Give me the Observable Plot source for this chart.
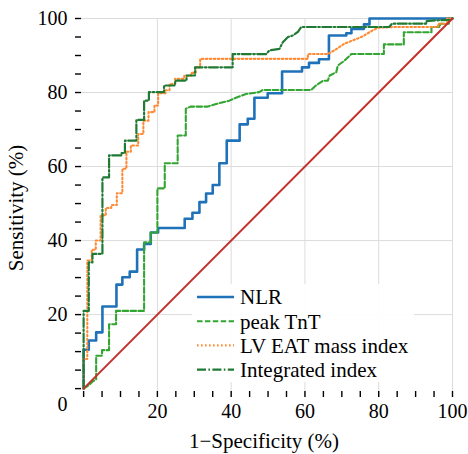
<!DOCTYPE html>
<html><head><meta charset="utf-8">
<script src="https://cdn.jsdelivr.net/npm/d3@7"></script>
<script src="https://cdn.jsdelivr.net/npm/@observablehq/plot@0.6"></script>
<style>
body{margin:0;background:#fff;font-family:"Liberation Serif";}
#wrap{position:relative;width:468px;height:454px;}
#legend{position:absolute;left:192px;top:284px;width:222px;height:98px;background:rgba(255,255,255,0.92);}
</style>
</head><body><div id="wrap"></div>
<script>
// ---- data (1-specificity %, sensitivity %) ----
const seriesNames = ["NLR", "peak TnT", "LV EAT mass index", "Integrated index"];
const nlr = [[0,0],[0,10.5],[1.4,10.5],[1.4,13],[3.4,13],[3.4,15.2],[5.1,15.2],[5.1,22.2],[8.9,22.2],[8.9,28.1],[10.5,28.1],[10.5,30.1],[12.5,30.1],[12.5,31.6],[14.5,31.6],[14.5,37.6],[16.4,37.6],[16.4,39.1],[18.2,39.1],[18.2,42.2],[20.2,42.2],[20.2,43.4],[27.4,43.4],[27.4,45.9],[29.5,45.9],[29.5,47.5],[31.4,47.5],[31.4,50.4],[33.2,50.4],[33.2,52.7],[35,52.7],[35,55],[36.8,55],[36.8,60.9],[38.8,60.9],[38.8,67],[42.3,67],[42.3,71.4],[44.5,71.4],[44.5,72.9],[46.3,72.9],[46.3,78.6],[49.9,78.6],[49.9,79.8],[53.8,79.8],[53.8,85.7],[59.2,85.7],[59.2,86.8],[61.1,86.8],[61.1,88],[63.8,88],[63.8,89],[66.5,89],[66.5,95.4],[71.2,95.4],[71.2,96],[72.6,96],[72.6,97.2],[76,97.2],[76,98.4],[77.5,98.4],[77.5,100],[100,100]];
const tnt = [[0,0],[1.5,1],[2.5,2],[3.4,2.5],[3.4,8.9],[5,8.9],[5,10.4],[6.9,10.4],[6.9,17.4],[8.8,17.4],[8.8,21],[16.4,21],[16.4,39.5],[18.2,39.5],[18.2,42.2],[20,42.2],[20,54.1],[22,54.1],[22,60.9],[25.5,60.9],[25.5,68.4],[27.7,68.4],[27.7,75.6],[29,76.2],[33.6,76.2],[35.9,76.9],[39.5,77.8],[41.3,78.6],[44,79.6],[47.6,80.1],[48.6,80.7],[61.7,80.7],[63,81.9],[64.9,83.2],[66.2,83.2],[66.7,84.6],[68.5,85.5],[68.9,87.3],[70.7,88.6],[72.6,90.4],[81.4,90.4],[81.4,93],[86.8,93],[86.8,96.3],[94.3,96.3],[94.3,97.7],[96.6,97.7],[96.6,98.6],[99,98.6],[99,100],[100,100]];
const eat = [[0,0],[0,8],[1,8],[1,34.6],[2.2,34.6],[2.2,37.5],[3.3,37.5],[3.3,40],[4.6,40],[4.6,46.8],[6,46.8],[6,48.8],[7.5,48.8],[7.5,49.6],[9,49.6],[9,52.8],[10.5,52.8],[10.5,59.4],[11.6,59.4],[11.6,64],[12.8,64],[12.8,65.7],[14.8,65.7],[14.8,68.8],[16.2,68.8],[16.2,72.4],[17.6,72.4],[17.6,74.7],[19.2,74.7],[19.2,76.5],[20.2,76.5],[20.2,79.8],[22.2,79.8],[22.2,80.6],[23.3,80.6],[23.3,82.3],[24.8,82.3],[24.8,83.7],[27.3,83.7],[27.3,84.5],[29.1,84.5],[29.1,85.3],[30.4,85.3],[30.4,86.8],[31.6,86.8],[31.6,89.1],[60.8,89.1],[60.8,90.4],[66.2,90.4],[68,91.4],[70.7,93.2],[75.3,95],[78.4,96.8],[79.8,97.5],[84.3,97.7],[96.1,97.7],[96.1,98.6],[98.5,98.6],[98.5,100],[100,100]];
const integ = [[0,0],[0,21],[1.4,21],[1.4,34.1],[2.4,34.1],[2.4,36.4],[5.1,36.4],[5.1,57.1],[6.9,57.1],[6.9,63],[10.3,63],[10.3,63.6],[11.2,63.6],[11.2,67],[14.3,67],[14.3,72.6],[16.4,72.6],[16.4,77.8],[17.7,77.8],[17.7,80.1],[21.8,80.1],[21.8,81.9],[24.8,81.9],[24.8,83.2],[27.9,83.2],[27.9,84.6],[30.2,84.6],[30.2,86.8],[40.4,86.8],[40.4,90.4],[49.5,90.4],[50.4,91.4],[53.1,91.8],[54,93.6],[55.4,95],[56.7,95.4],[58.1,96.4],[59,97.7],[82.8,97.7],[83.6,98.6],[93,98.6],[93,99.3],[95.5,99.5],[99.5,99.6],[100,100]];
const reference = [[0,0],[100,100]];
const labelTicks = [20, 40, 60, 80, 100];
const minorTicks = d3.range(0, 101, 5);

// ---- styles ----
const curves = [nlr, tnt, eat, integ];
const colors = ["#1f72b8", "#33a532", "#ff8a33", "#207a34"];
const widths = [2.6, 2.1, 2.1, 2.2];
const dashes = [null, "5.5,2.4", "1.6,2.4", "9,2.4,1.6,2.4"];

const chart = Plot.plot({
  width: 468, height: 454,
  marginLeft: 75, marginRight: 16, marginTop: 18, marginBottom: 57,
  style: {fontFamily: "Liberation Serif", fontSize: "20px", color: "#000", background: "#fff", overflow: "visible"},
  x: {domain: [-2.2, 100]},
  y: {domain: [-2.4, 100]},
  marks: [
    Plot.gridX(labelTicks, {stroke: "#dcdcdc", strokeOpacity: 1, strokeWidth: 1}),
    Plot.gridY(labelTicks, {stroke: "#dcdcdc", strokeOpacity: 1, strokeWidth: 1}),
    ...curves.map((c, i) => Plot.line(c, {x: d => d[0], y: d => d[1], stroke: colors[i], strokeWidth: widths[i], strokeDasharray: dashes[i]})),
    Plot.line(reference, {x: d => d[0], y: d => d[1], stroke: "#c4302b", strokeWidth: 2}),
    Plot.axisX(minorTicks, {tickSize: 6, dy: -6, text: null, label: null, strokeWidth: 1.4}),
    Plot.axisY(minorTicks, {tickSize: 6, dx: 6, text: null, label: null, strokeWidth: 1.4}),
    Plot.axisX(labelTicks, {tickSize: 0, tickPadding: 6, line: true, strokeWidth: 2, label: null}),
    Plot.axisY(labelTicks, {tickSize: 0, tickPadding: 8, line: true, strokeWidth: 2, label: null}),
    Plot.axisX([], {tickSize: 0, label: "1−Specificity (%)", labelAnchor: "center", labelOffset: 50, labelArrow: "none", fontSize: 21}),
    Plot.axisY([], {tickSize: 0, label: "Sensitivity (%)", labelAnchor: "center", labelOffset: 67, labelArrow: "none", fontSize: 21}),
    Plot.text(["0"], {frameAnchor: "bottom-left", dx: -13, dy: 7, textAnchor: "middle", lineAnchor: "middle", fill: "#000"})
  ]
});
const wrap = document.getElementById("wrap");
wrap.appendChild(chart);

// ---- legend ----
const lg = d3.select(wrap).append("div").attr("id", "legend")
  .append("svg").attr("width", 222).attr("height", 98);
seriesNames.forEach((name, i) => {
  const cy = 13 + i * 24.2;
  lg.append("line").attr("x1", 5).attr("x2", 42).attr("y1", cy).attr("y2", cy)
    .attr("stroke", colors[i]).attr("stroke-width", widths[i]).attr("stroke-dasharray", dashes[i]);
  lg.append("text").attr("x", 48).attr("y", cy).attr("dy", "0.35em")
    .attr("font-family", "Liberation Serif").attr("font-size", 21).attr("fill", "#000").text(name);
});
</script>
</body></html>
